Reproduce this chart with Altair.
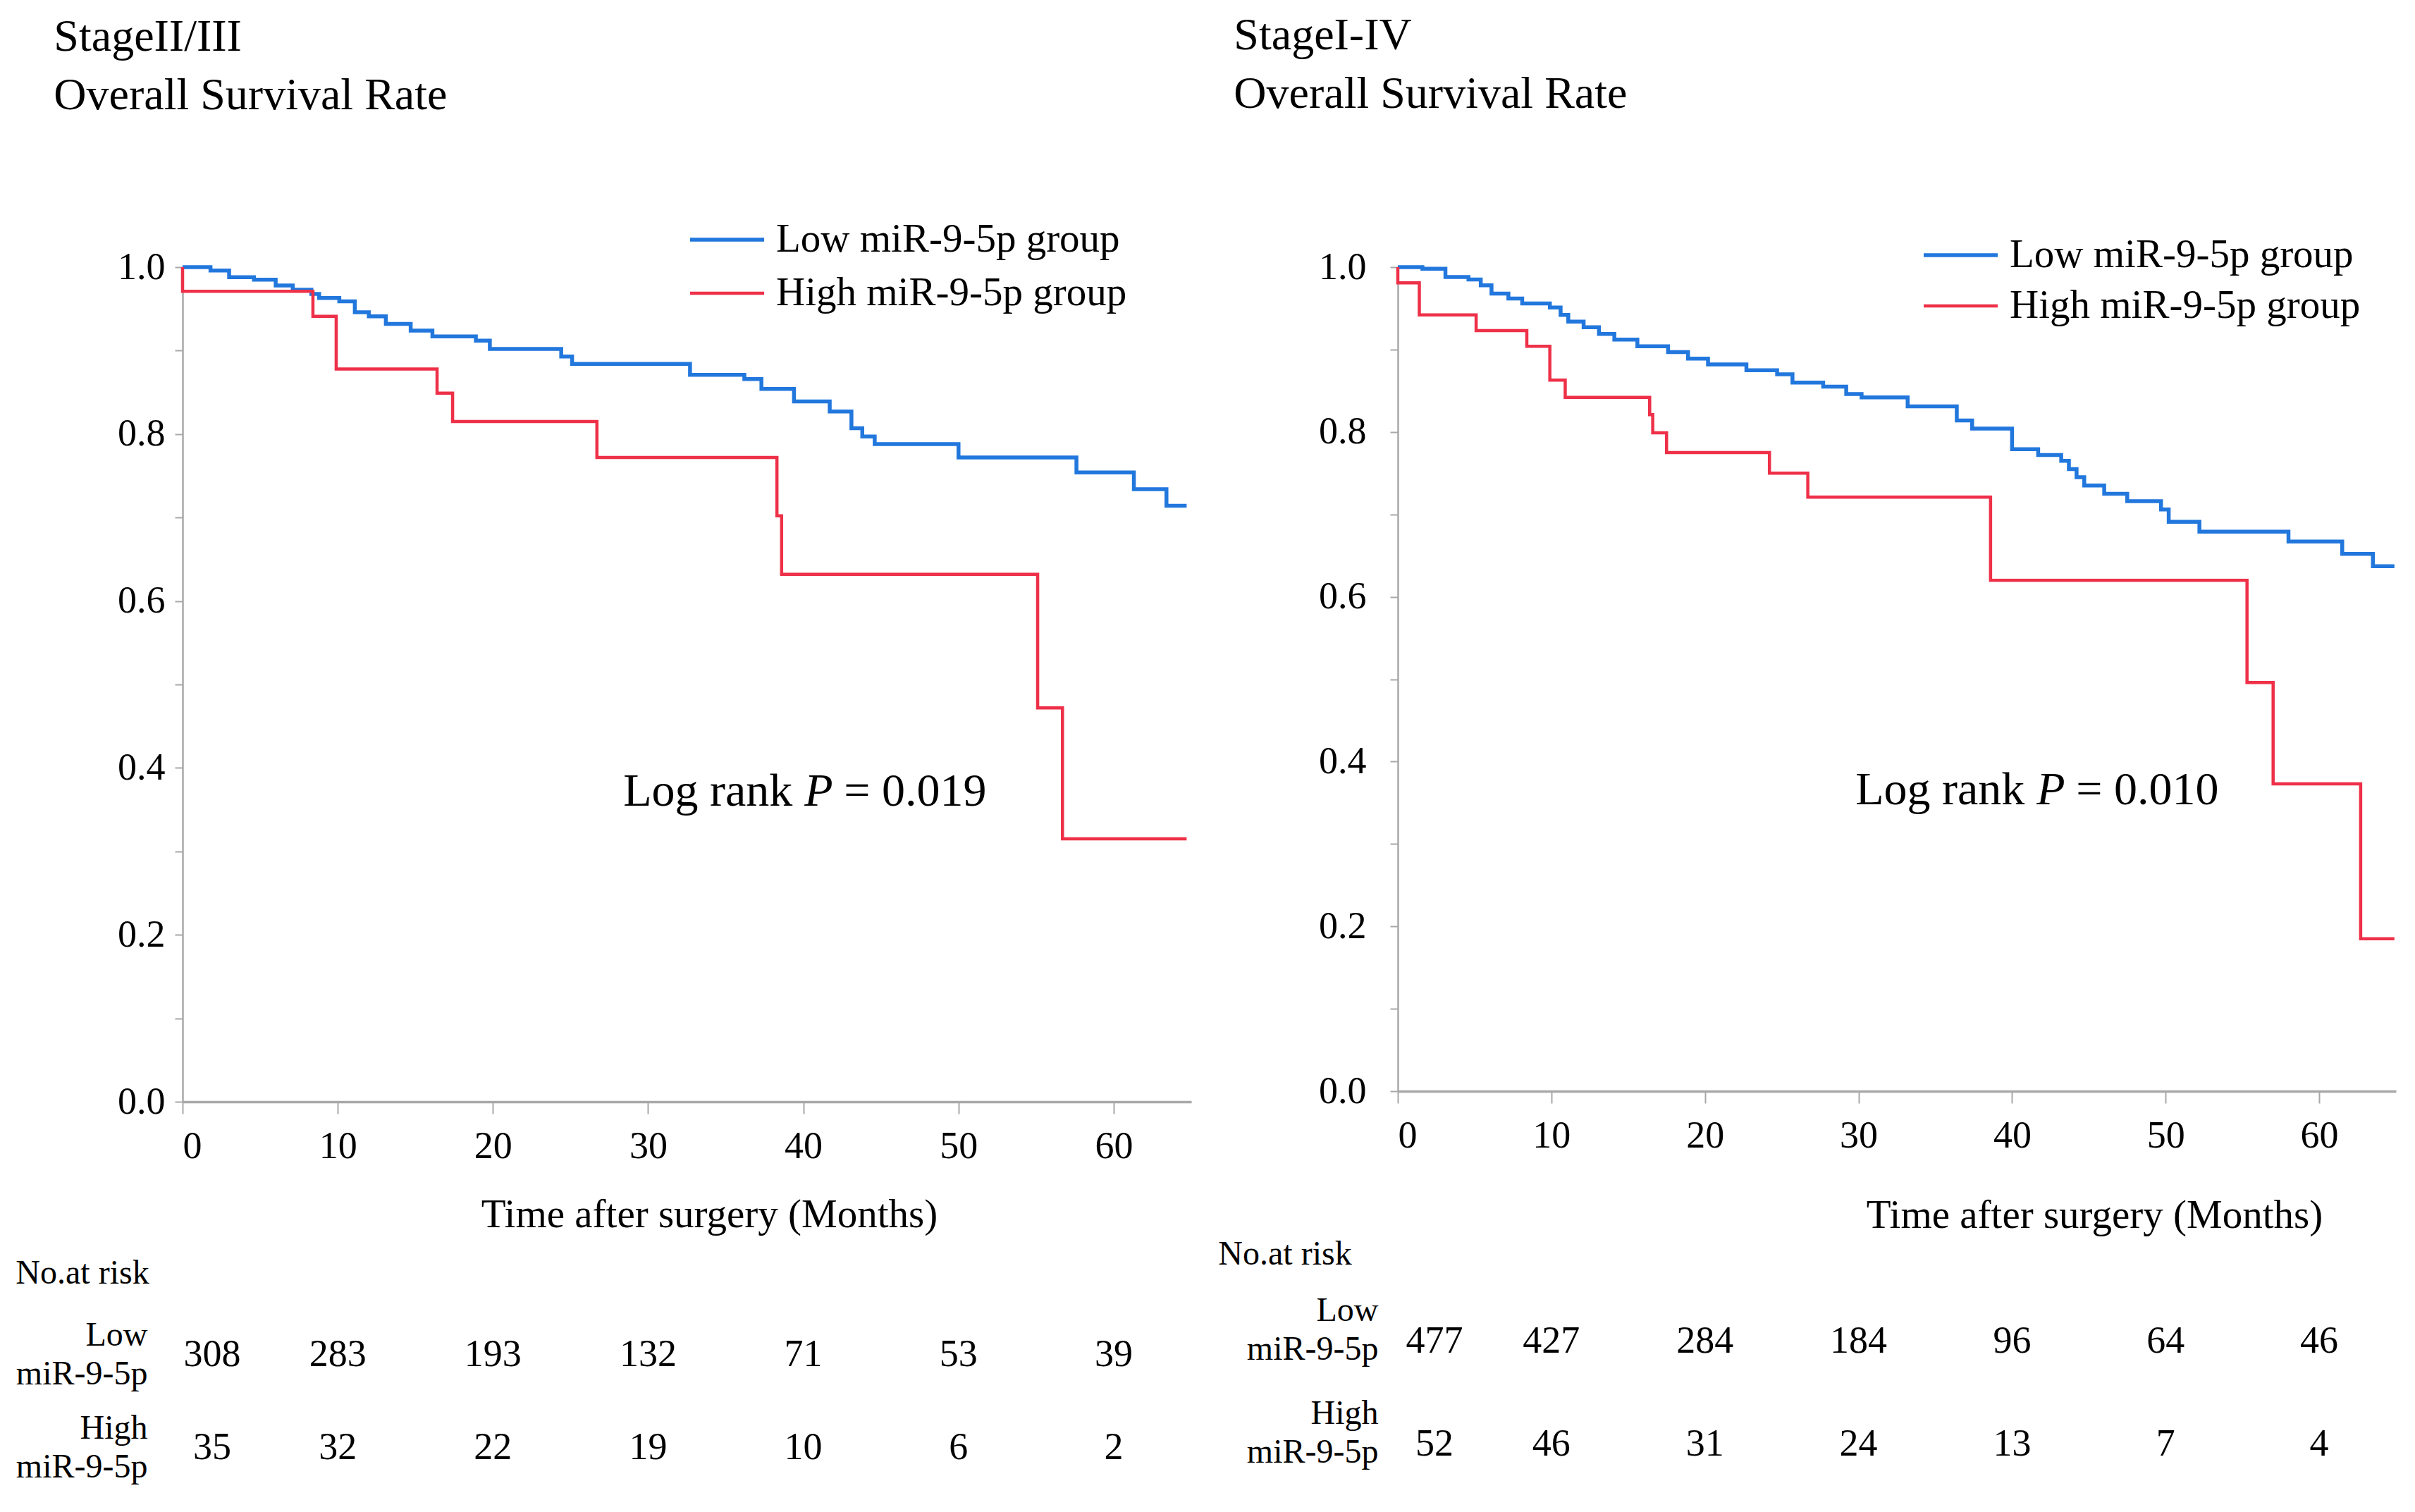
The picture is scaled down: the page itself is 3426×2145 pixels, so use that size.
import altair as alt
import pandas as pd

FONT = "Liberation Serif"
BLUE = "#2277DD"
RED = "#EE3048"
GROUPS = ["Low miR-9-5p group", "High miR-9-5p group"]
RISK_ROWS = ["Low miR-9-5p", "High miR-9-5p"]

# ---- Stage II/III ----
s23_low_t = [0, 1.8, 3.0, 4.6, 6.0, 7.1, 8.3, 8.8, 10.1, 11.1, 12.0, 13.1, 14.7, 16.1, 18.9, 19.8,
             24.4, 25.1, 32.7, 36.2, 37.3, 39.4, 41.7, 43.1, 43.8, 44.6, 50.0, 57.6, 61.3, 63.4, 64.7]
s23_low_s = [1.0, 0.996, 0.988, 0.985, 0.978, 0.973, 0.968, 0.963, 0.959, 0.946, 0.941, 0.932, 0.924, 0.917, 0.912, 0.902,
             0.893, 0.884, 0.871, 0.866, 0.854, 0.839, 0.827, 0.807, 0.797, 0.788, 0.772, 0.754, 0.734, 0.714, 0.714]
s23_high_t = [0, 0, 8.4, 9.9, 16.4, 17.4, 26.7, 38.3, 38.6, 55.1, 56.7, 64.7]
s23_high_s = [1.0, 0.971, 0.941, 0.878, 0.849, 0.815, 0.772, 0.702, 0.632, 0.472, 0.315, 0.315]

# ---- Stage I-IV ----
s14_low_t = [0, 1.6, 3.1, 4.6, 5.4, 6.1, 7.2, 8.1, 9.9, 10.6, 11.1, 12.1, 13.1, 14.1, 15.6, 17.6, 18.9, 20.2,
             22.7, 24.7, 25.7, 27.7, 29.2, 30.2, 33.2, 36.4, 37.4, 40.0, 41.7, 43.2, 43.7, 44.2, 44.7, 46.0,
             47.5, 49.7, 50.2, 52.2, 58.0, 61.5, 63.5, 64.9]
s14_low_s = [1.0, 0.998, 0.988, 0.985, 0.978, 0.968, 0.962, 0.956, 0.951, 0.942, 0.934, 0.927, 0.919, 0.912, 0.904, 0.897, 0.889, 0.882,
             0.875, 0.870, 0.860, 0.855, 0.846, 0.842, 0.831, 0.814, 0.804, 0.779, 0.772, 0.765, 0.755, 0.745, 0.735, 0.725,
             0.716, 0.706, 0.691, 0.679, 0.667, 0.652, 0.637, 0.637]
s14_high_t = [0, 0, 1.4, 5.1, 8.4, 9.9, 10.9, 16.4, 16.6, 17.5, 24.2, 26.7, 38.6, 55.3, 57.0, 62.7, 64.9]
s14_high_s = [1.0, 0.981, 0.942, 0.923, 0.904, 0.863, 0.842, 0.821, 0.799, 0.775, 0.750, 0.721, 0.620, 0.496, 0.373, 0.185, 0.185]

# ---- numbers at risk ----
risk_times = [0, 10, 20, 30, 40, 50, 60]
s23_risk_low = [308, 283, 193, 132, 71, 53, 39]
s23_risk_high = [35, 32, 22, 19, 10, 6, 2]
s14_risk_low = [477, 427, 284, 184, 96, 64, 46]
s14_risk_high = [52, 46, 31, 24, 13, 7, 4]

x_ticks = [0, 10, 20, 30, 40, 50, 60]
y_ticks = [0.0, 0.1, 0.2, 0.3, 0.4, 0.5, 0.6, 0.7, 0.8, 0.9, 1.0]


def curve_df(t, s, g):
    return pd.DataFrame({"time": t, "surv": s, "group": g, "i": list(range(len(t)))})


def panel(title_lines, title_dx, title_offset, low_t, low_s, high_t, high_s, risk_low, risk_high,
          pval, px, py, w, h, risk_h, ylab_pad, xtitle_x, xtitle_pad, leg_x, leg_y, leg_h, risk_lab_pad,
          risk_lab_off, first_dx, vspace, risk_title_dx, risk_title_off):
    curves = pd.concat([curve_df(low_t, low_s, GROUPS[0]), curve_df(high_t, high_s, GROUPS[1])])
    xs = alt.Scale(domain=[0, 65], nice=False, zero=False)
    lines = alt.Chart(curves).mark_line(interpolate="step-after").encode(
        x=alt.X("time:Q", scale=xs,
                axis=alt.Axis(values=x_ticks, title="Time after surgery (Months)", tickSize=17,
                              labelPadding=19, titlePadding=xtitle_pad, domainWidth=3.5, titleX=xtitle_x,
                              labelFontSize=54, titleFontSize=57)),
        y=alt.Y("surv:Q", scale=alt.Scale(domain=[0, 1]),
                axis=alt.Axis(values=y_ticks, format=".1f", tickSize=11, domainWidth=2.5,
                              labelExpr="(round(datum.value*10) % 2 == 0) ? datum.label : ''",
                              labelPadding=ylab_pad, title=None, labelFontSize=54)),
        color=alt.Color("group:N", scale=alt.Scale(domain=GROUPS, range=[BLUE, RED]),
                        legend=alt.Legend(orient="none", legendX=leg_x, legendY=leg_y, title=None,
                                          symbolType="stroke", symbolSize=11025, symbolStrokeWidth=5,
                                          labelFontSize=57, labelFont=FONT, labelOffset=14, labelLimit=0,
                                          rowPadding=0, clipHeight=leg_h, padding=0)),
        strokeWidth=alt.StrokeWidth("group:N", scale=alt.Scale(domain=GROUPS, range=[5.5, 4.5]), legend=None),
        order="i:Q",
    )
    ann = pd.DataFrame({"x": [px], "y": [py]})
    base = alt.Chart(ann).encode(x=alt.X("x:Q", scale=xs), y=alt.Y("y:Q"))
    t1 = base.mark_text(text="Log rank", align="left", baseline="middle", fontSize=66, font=FONT)
    t2 = base.mark_text(text="P", align="left", baseline="middle", fontSize=66, font=FONT,
                        fontStyle="italic", dx=257)
    t3 = base.mark_text(text="= " + pval, align="left", baseline="middle", fontSize=66, font=FONT, dx=313)
    km = alt.layer(lines, t1, t2, t3).properties(width=w, height=h)

    rdf = pd.DataFrame({"time": risk_times * 2, "n": risk_low + risk_high,
                        "row": [RISK_ROWS[0]] * 7 + [RISK_ROWS[1]] * 7})
    ry = alt.Y("row:N", scale=alt.Scale(domain=RISK_ROWS),
               axis=alt.Axis(title=None, domain=False, ticks=False, labelExpr="split(datum.label, ' ')",
                             labelFontSize=48, labelLineHeight=55, labelPadding=risk_lab_pad,
                             labelOffset=risk_lab_off, labelAlign="right", labelLimit=0))
    rx = alt.X("time:Q", scale=xs, axis=None)
    r0 = alt.Chart(rdf).transform_filter("datum.time == 0").mark_text(
        fontSize=54, font=FONT, baseline="middle", dx=first_dx).encode(x=rx, y=ry, text="n:Q")
    r1 = alt.Chart(rdf).transform_filter("datum.time > 0").mark_text(
        fontSize=54, font=FONT, baseline="middle").encode(x=rx, y=ry, text="n:Q")
    risk = alt.layer(r0, r1).properties(
        width=w, height=risk_h,
        title=alt.TitleParams("No.at risk", anchor="start", frame="bounds", fontSize=48, font=FONT,
                              fontWeight="normal", dx=risk_title_dx, offset=risk_title_off))
    return alt.vconcat(km, risk, spacing=vspace).properties(
        title=alt.TitleParams(title_lines, anchor="start", frame="bounds", fontSize=64, font=FONT,
                              fontWeight="normal", lineHeight=83, dx=title_dx, offset=title_offset)
    ).resolve_scale(color="independent", strokeWidth="independent")


left = panel(["StageII/III", "Overall Survival Rate"], 54, 134, s23_low_t, s23_low_s, s23_high_t, s23_high_s,
             s23_risk_low, s23_risk_high, "0.019", 28.4, 0.372, 1431, 1184, 264, 14, 747, 42,
             717, -77, 76, 50, -28, 42, 32, 0, 25)
right = panel(["StageI-IV", "Overall Survival Rate"], 22, 160, s14_low_t, s14_low_s, s14_high_t, s14_high_s,
              s14_risk_low, s14_risk_high, "0.010", 29.8, 0.365, 1416, 1169, 292, 34, 988, 58,
              743, -53, 72, 28, -44, 52, 4, -40, 26)

chart = alt.hconcat(left, right, spacing=33).resolve_scale(color="independent", strokeWidth="independent").properties(
    padding={"left": 14, "top": 11, "right": 5, "bottom": 5}
).configure_view(stroke=None).configure_axis(
    grid=False, domainColor="#a8a8a8", tickColor="#a8a8a8", tickWidth=2,
    labelFont=FONT, titleFont=FONT, labelColor="#000000", titleColor="#000000",
    titleFontWeight="normal"
).configure_text(color="#000000")

chart.save("out.html", embed_options={"renderer": "svg", "actions": False})
